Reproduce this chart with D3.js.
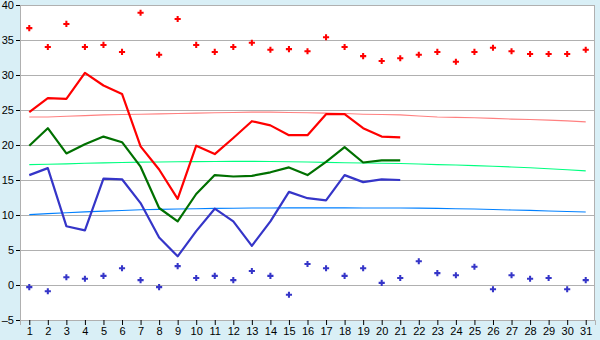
<!DOCTYPE html>
<html lang="en">
<head>
  <meta charset="UTF-8">
  <title>Daily temperatures</title>
  <style>
    body {
      margin: 0;
      background: #d9eff6;
      overflow: hidden;
    }
    svg {
      display: block;
      font-family: "DejaVu Sans Mono", monospace;
    }
    .tick text {
      font-size: 11px;
      fill: #000;
    }
  </style>
</head>
<body>
  <svg width="600" height="340"></svg>

  <script src="https://d3js.org/d3.v7.min.js"></script>
  <script>
    // days of the month
    const days = d3.range(1, 32).map(String);
    const yTicks = [-5, 0, 5, 10, 15, 20, 25, 30, 35, 40];

    // daily max (markers)
    const maxPoints = [36.7, 34.0, 37.3, 34.0, 34.3, 33.3, 38.9, 32.9, 38.0, 34.3,
      33.3, 34.0, 34.6, 33.6, 33.7, 33.4, 35.4, 34.0, 32.7, 32.0,
      32.4, 32.9, 33.3, 31.9, 33.3, 33.9, 33.4, 33.0, 33.0, 33.0, 33.6];
    // daily min (markers)
    const minPoints = [-0.3, -0.9, 1.1, 0.9, 1.3, 2.4, 0.7, -0.3, 2.7, 1.0,
      1.3, 0.7, 2.0, 1.3, -1.4, 3.0, 2.4, 1.3, 2.4, 0.3,
      1.0, 3.4, 1.7, 1.4, 2.6, -0.6, 1.4, 0.9, 1.0, -0.6, 0.7];

    // measured series, days 1..21
    const redLine = [24.7, 26.7, 26.6, 30.3, 28.5, 27.3, 19.8, 16.5, 12.3, 19.9,
      18.7, 21.0, 23.4, 22.8, 21.4, 21.4, 24.4, 24.4, 22.4, 21.2, 21.1];
    const greenLine = [19.9, 22.4, 18.8, 20.1, 21.2, 20.4, 16.9, 11.0, 9.1, 13.0,
      15.7, 15.5, 15.6, 16.1, 16.8, 15.7, 17.6, 19.7, 17.5, 17.8, 17.8];
    const blueLine = [15.7, 16.7, 8.4, 7.8, 15.2, 15.1, 11.7, 6.8, 4.1, 7.7,
      10.9, 9.1, 5.6, 9.1, 13.3, 12.4, 12.1, 15.7, 14.7, 15.1, 15.0];

    // long-term normals
    const redNormal = [24.0, 24.0, 24.1, 24.2, 24.3, 24.35, 24.4, 24.45, 24.5, 24.55,
      24.6, 24.65, 24.7, 24.7, 24.65, 24.6, 24.55, 24.5, 24.4, 24.35,
      24.3, 24.15, 24.0, 23.95, 23.9, 23.8, 23.7, 23.65, 23.55, 23.45, 23.3];
    const greenNormal = [17.2, 17.25, 17.3, 17.4, 17.45, 17.5, 17.55, 17.57, 17.6, 17.62,
      17.65, 17.66, 17.66, 17.65, 17.6, 17.57, 17.52, 17.47, 17.43, 17.4,
      17.35, 17.29, 17.2, 17.15, 17.05, 16.97, 16.86, 16.75, 16.6, 16.47, 16.3];
    const blueNormal = [10.05, 10.2, 10.33, 10.45, 10.55, 10.65, 10.75, 10.8, 10.85, 10.9,
      10.95, 10.97, 11.0, 11.0, 11.02, 11.02, 11.02, 11.02, 11.0, 11.0,
      11.0, 10.98, 10.95, 10.9, 10.85, 10.78, 10.72, 10.66, 10.58, 10.5, 10.43];

    const svg = d3.select("svg");
    const margin = {top: 5, right: 5, bottom: 20, left: 20};
    const width = 600 - margin.left - margin.right;
    const height = 340 - margin.top - margin.bottom;

    const g = svg.append("g")
      .attr("transform", `translate(${margin.left},${margin.top})`);

    const x = d3.scalePoint()
      .domain(days)
      .range([0, width])
      .padding(0.5);

    const y = d3.scaleLinear()
      .domain([-5, 40])
      .range([height, 0]);

    g.append("rect")
      .attr("width", width)
      .attr("height", height)
      .attr("fill", "#fff");

    // grid
    g.append("g")
      .selectAll("line")
      .data(yTicks)
      .join("line")
      .attr("x1", 0)
      .attr("x2", width)
      .attr("y1", d => Math.round(y(d)) + 0.5)
      .attr("y2", d => Math.round(y(d)) + 0.5)
      .attr("stroke", "#b0b0b0");

    g.append("line")
      .attr("x1", width - 0.5).attr("x2", width - 0.5)
      .attr("y1", 0).attr("y2", height)
      .attr("stroke", "#b0b0b0");

    const xAxis = g.append("g")
      .attr("transform", `translate(0,${height})`)
      .call(d3.axisBottom(x).tickSize(5).tickPadding(2));
    xAxis.select(".domain").attr("stroke", "#b0b0b0");
    xAxis.selectAll(".tick line").attr("stroke", "#000");

    const yAxis = g.append("g")
      .call(d3.axisLeft(y).tickValues(yTicks).tickSize(4).tickPadding(2)
        .tickFormat(d => d < 0 ? "\u2013" + Math.abs(d) : d));
    yAxis.select(".domain").attr("stroke", "#b0b0b0");
    yAxis.selectAll(".tick line").attr("stroke", "#000");

    const line = d3.line()
      .x((d, i) => x(days[i]))
      .y(d => y(d));

    const normals = [
      {values: redNormal, color: "#ff8080"},
      {values: greenNormal, color: "#00ff80"},
      {values: blueNormal, color: "#0080ff"}
    ];
    g.selectAll(".normal")
      .data(normals)
      .join("path")
      .attr("class", "normal")
      .attr("d", d => line(d.values))
      .attr("fill", "none")
      .attr("stroke", d => d.color)
      .attr("stroke-width", 1.1);

    const series = [
      {values: redLine, color: "#ff0000"},
      {values: greenLine, color: "#007000"},
      {values: blueLine, color: "#3535c8"}
    ];
    g.selectAll(".series")
      .data(series)
      .join("path")
      .attr("class", "series")
      .attr("d", d => line(d.values))
      .attr("fill", "none")
      .attr("stroke", d => d.color)
      .attr("stroke-width", 2.2)
      .attr("stroke-linejoin", "round");

    const marker = d3.symbol().type(d3.symbolCross).size(21);
    const markers = [
      {values: maxPoints, color: "#ff0000"},
      {values: minPoints, color: "#3535c8"}
    ];
    markers.forEach(m => {
      g.append("g")
        .selectAll("path")
        .data(m.values)
        .join("path")
        .attr("transform", (d, i) => `translate(${x(days[i])},${y(d)})`)
        .attr("d", marker)
        .attr("fill", m.color);
    });
  </script>
</body>
</html>
